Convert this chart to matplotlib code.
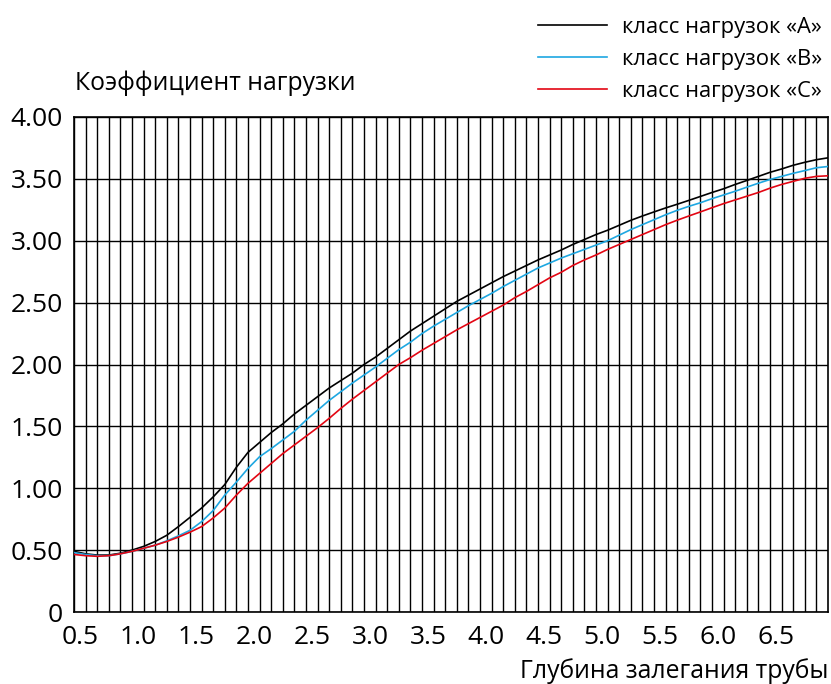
import numpy as np
import matplotlib
matplotlib.use("Agg")
import matplotlib.pyplot as plt
import matplotlib.transforms as mtransforms

plt.rcParams['font.family'] = ['Open Sans', 'DejaVu Sans']

depth = [0.5, 0.6, 0.7, 0.8, 0.9, 1.0, 1.1, 1.2, 1.3, 1.4, 1.5, 1.6, 1.7, 1.8, 1.9,
         2.0, 2.1, 2.2, 2.3, 2.4, 2.5, 2.6, 2.7, 2.8, 2.9, 3.0, 3.1, 3.2, 3.3, 3.4,
         3.5, 3.6, 3.7, 3.8, 3.9, 4.0, 4.1, 4.2, 4.3, 4.4, 4.5, 4.6, 4.7, 4.8, 4.9,
         5.0, 5.1, 5.2, 5.3, 5.4, 5.5, 5.6, 5.7, 5.8, 5.9, 6.0, 6.1, 6.2, 6.3, 6.4,
         6.5, 6.6, 6.7, 6.8, 6.9, 7.0]

class_a = [0.49, 0.47, 0.46, 0.46, 0.475, 0.50, 0.53, 0.57, 0.62, 0.69, 0.765, 0.84, 0.93, 1.03, 1.17,
           1.29, 1.37, 1.45, 1.52, 1.60, 1.67, 1.74, 1.81, 1.87, 1.93, 2.00, 2.06, 2.13, 2.20, 2.27,
           2.33, 2.39, 2.45, 2.51, 2.56, 2.61, 2.66, 2.71, 2.755, 2.80, 2.845, 2.885, 2.925, 2.97, 3.01,
           3.05, 3.085, 3.125, 3.165, 3.20, 3.233, 3.265, 3.295, 3.326, 3.358, 3.39, 3.42, 3.455, 3.487, 3.52,
           3.553, 3.58, 3.61, 3.634, 3.655, 3.67]

class_b = [0.48, 0.465, 0.455, 0.455, 0.47, 0.49, 0.515, 0.54, 0.575, 0.615, 0.66, 0.73, 0.82, 0.945, 1.05,
           1.16, 1.255, 1.32, 1.39, 1.46, 1.55, 1.63, 1.71, 1.78, 1.85, 1.915, 1.98, 2.05, 2.12, 2.18,
           2.25, 2.31, 2.365, 2.42, 2.475, 2.525, 2.575, 2.63, 2.68, 2.73, 2.78, 2.82, 2.86, 2.895, 2.93,
           2.965, 3.00, 3.045, 3.09, 3.13, 3.17, 3.21, 3.246, 3.278, 3.307, 3.34, 3.37, 3.40, 3.433, 3.465,
           3.495, 3.52, 3.545, 3.567, 3.59, 3.60]

class_c = [0.465, 0.455, 0.45, 0.455, 0.47, 0.49, 0.515, 0.54, 0.57, 0.605, 0.645, 0.69, 0.76, 0.84, 0.945,
           1.04, 1.12, 1.20, 1.28, 1.35, 1.42, 1.49, 1.565, 1.645, 1.72, 1.79, 1.86, 1.93, 2.00, 2.055,
           2.115, 2.17, 2.225, 2.28, 2.33, 2.38, 2.43, 2.48, 2.54, 2.59, 2.645, 2.70, 2.745, 2.80, 2.845,
           2.885, 2.93, 2.97, 3.01, 3.05, 3.09, 3.13, 3.166, 3.20, 3.233, 3.267, 3.30, 3.33, 3.36, 3.39,
           3.425, 3.455, 3.48, 3.505, 3.52, 3.525]

series_labels = ['класс нагрузок «A»', 'класс нагрузок «B»', 'класс нагрузок «C»']
series_colors = ['#000000', '#1ea7e1', '#e30613']

x_ticks = [0.5, 1.0, 1.5, 2.0, 2.5, 3.0, 3.5, 4.0, 4.5, 5.0, 5.5, 6.0, 6.5]
x_tick_labels = ['0.5', '1.0', '1.5', '2.0', '2.5', '3.0', '3.5', '4.0', '4.5', '5.0', '5.5', '6.0', '6.5']
y_ticks = [0, 0.5, 1.0, 1.5, 2.0, 2.5, 3.0, 3.5, 4.0]
y_tick_labels = ['0', '0.50', '1.00', '1.50', '2.00', '2.50', '3.00', '3.50', '4.00']

y_title = 'Коэффициент нагрузки'
x_title = 'Глубина залегания трубы'

W, H = 831, 684
fig = plt.figure(figsize=(W / 100, H / 100), dpi=100)
ax = fig.add_axes([74 / W, 72 / H, 754 / W, 495 / H])

lines = []
for vals, lab, col in zip([class_a, class_b, class_c], series_labels, series_colors):
    ln, = ax.plot(depth, vals, color=col, lw=1.2, label=lab, zorder=3)
    lines.append(ln)

ax.set_xlim(0.5, 7.0)
ax.set_ylim(0, 4.0)
ax.set_xticks(x_ticks)
ax.set_xticklabels(x_tick_labels)
ax.set_xticks(np.arange(0.5, 6.95, 0.1), minor=True)
ax.set_yticks(y_ticks)
ax.set_yticklabels(y_tick_labels)
ax.grid(True, which='both', axis='x', color='black', lw=1.0)
ax.grid(True, which='major', axis='y', color='black', lw=1.0)
ax.set_axisbelow(True)
ax.tick_params(which='both', length=0, labelsize=19, colors='black')
ax.tick_params(axis='y', pad=8)
ax.tick_params(axis='x', pad=9)
for s in ax.spines.values():
    s.set_linewidth(1.2)
    s.set_color('black')

offset = mtransforms.ScaledTranslation(6 / 100, 0, fig.dpi_scale_trans)
for lbl in ax.get_xticklabels():
    lbl.set_transform(lbl.get_transform() + offset)

fig.text(75 / W, 1 - 90 / H, y_title, fontsize=17.8, ha='left', va='baseline')
fig.text(828 / W, 1 - 678 / H, x_title, fontsize=17.8, ha='right', va='baseline')

leg = fig.legend(handles=lines, loc='upper left', bbox_to_anchor=(538 / W, 1 - 17 / H),
                 frameon=False, fontsize=15.8, handlelength=3.15, handletextpad=0.68,
                 labelspacing=0.5, borderaxespad=0, borderpad=0)

fig.savefig('out.png', dpi=100)
